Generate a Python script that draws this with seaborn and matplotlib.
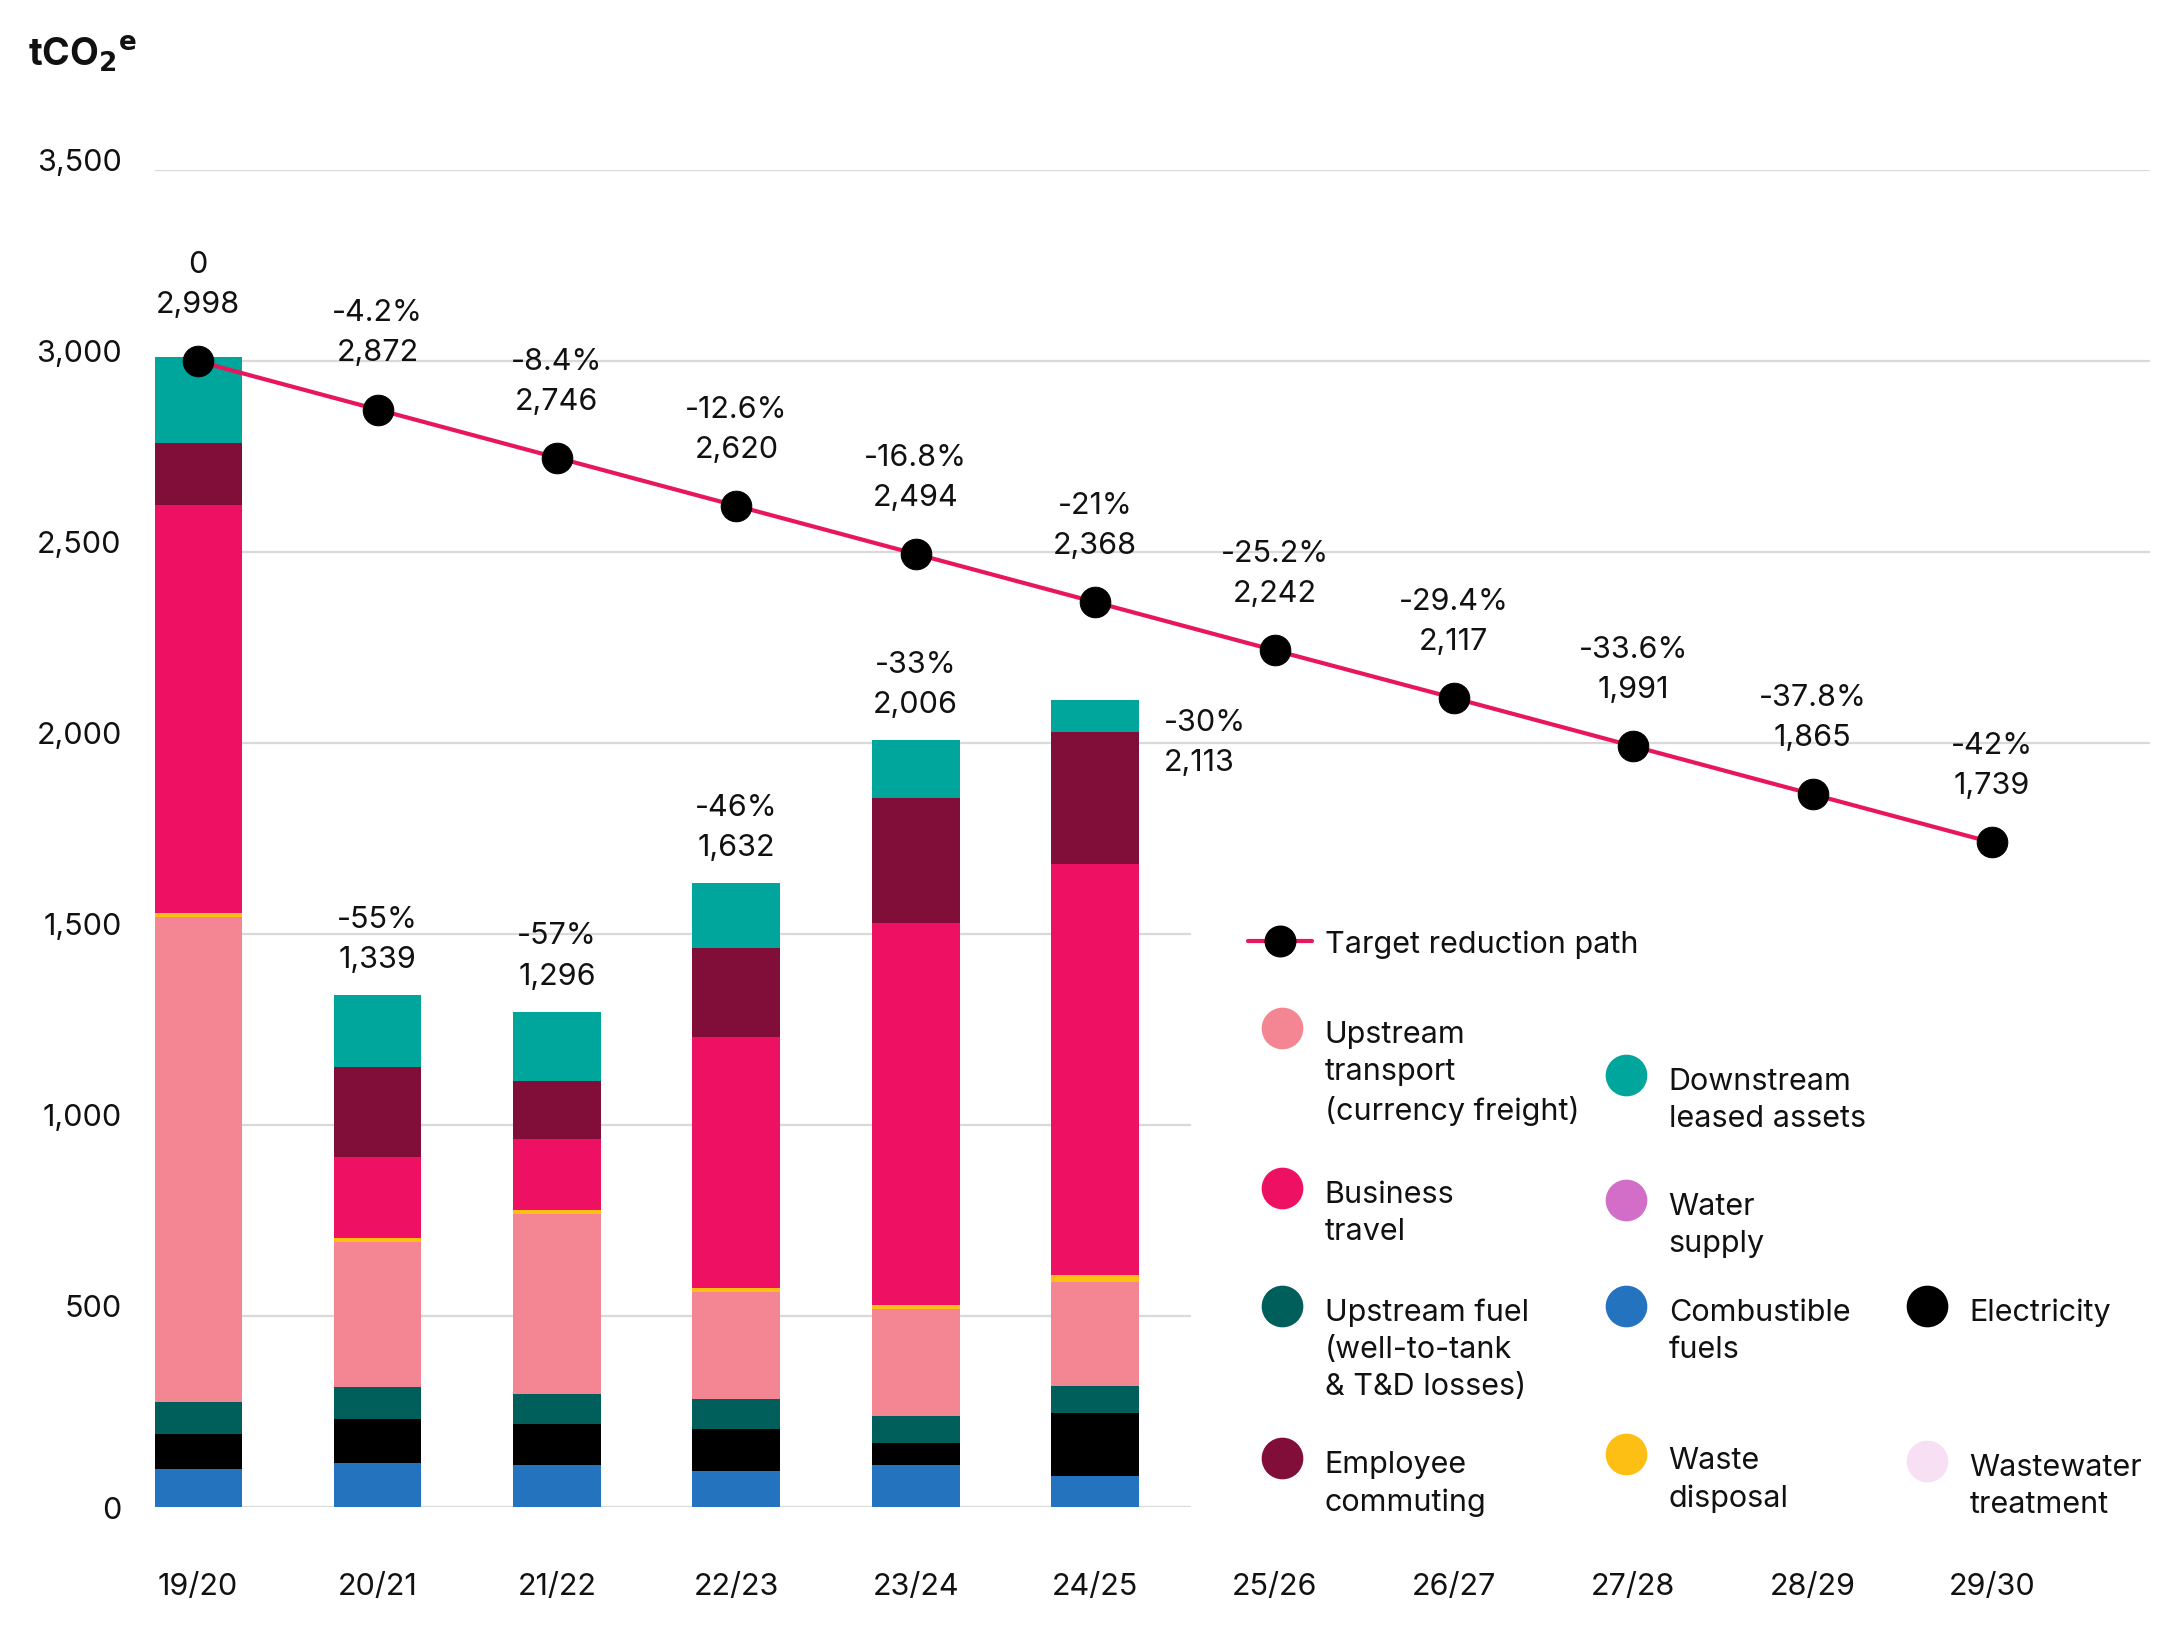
import numpy as np
import matplotlib.pyplot as plt
from matplotlib.lines import Line2D
import seaborn as sns

# Data
years = ["19/20", "20/21", "21/22", "22/23", "23/24", "24/25",
         "25/26", "26/27", "27/28", "28/29", "29/30"]

# actual emissions by source (tCO2e), bottom to top of the stack
combustible_fuels = [100, 115, 111, 95, 110, 82]
electricity = [90, 115, 107, 110, 57, 165]
upstream_fuel = [84, 85, 78, 78, 70, 70]
upstream_transport = [1270, 378, 471, 280, 280, 272]
waste_disposal = [10, 12, 11, 11, 11, 17]
business_travel = [1068, 212, 185, 655, 1000, 1077]
employee_commuting = [163, 234, 151, 235, 328, 345]
downstream_leased = [225, 188, 182, 168, 150, 85]
water_supply = [0, 0, 0, 0, 0, 0]
wastewater = [0, 0, 0, 0, 0, 0]

bar_change = ["", "-55%", "-57%", "-46%", "-33%", "-30%"]

target = [2998, 2872, 2746, 2620, 2494, 2368, 2242, 2117, 1991, 1865, 1739]
target_change = ["0", "-4.2%", "-8.4%", "-12.6%", "-16.8%", "-21%",
                 "-25.2%", "-29.4%", "-33.6%", "-37.8%", "-42%"]

# Colours
c_transport = "#F38692"
c_business = "#EE1163"
c_fuel = "#005F5A"
c_commute = "#800E38"
c_downstream = "#00A59B"
c_water = "#D36EC8"
c_combust = "#2473BE"
c_elec = "#000000"
c_waste = "#FDBF13"
c_wastewater = "#F7E0F3"
c_line = "#E8175D"

stack = [
    (combustible_fuels, c_combust),
    (electricity, c_elec),
    (upstream_fuel, c_fuel),
    (upstream_transport, c_transport),
    (waste_disposal, c_waste),
    (water_supply, c_water),
    (wastewater, c_wastewater),
    (business_travel, c_business),
    (employee_commuting, c_commute),
    (downstream_leased, c_downstream),
]

sns.set_theme(style="white")
plt.rcParams["font.family"] = ["Inter", "DejaVu Sans"]
plt.rcParams["mathtext.default"] = "bf"

FS = 22
TXT = "#111111"

fig = plt.figure(figsize=(21.75, 16.4), dpi=100)
ax = fig.add_axes([0.0713, 0.0805, 0.9172, 0.8155])

x_all = np.arange(len(years))
x_bar = x_all[:len(bar_change)]

# gridlines: upper ones run the full width, lower ones stop before the legend
for y in [0, 500, 1000, 1500, 2000, 2500, 3000, 3500]:
    xmax = 1.0 if y >= 2000 else 0.519
    ax.axhline(y, xmin=0, xmax=xmax, color="#D9D9D9", lw=1.6, zorder=0)

# Stacked bars
bottom = np.zeros(len(x_bar))
for vals, col in stack:
    vals = np.array(vals, dtype=float)
    ax.bar(x_bar, vals, bottom=bottom, width=0.49, color=col, linewidth=0, zorder=2)
    bottom += vals
totals = bottom

# Target line
sns.lineplot(x=x_all, y=target, ax=ax, color=c_line, lw=3, marker="o",
             markersize=22, markerfacecolor="black", markeredgecolor="black",
             zorder=5)

# Labels on target points
for i, (v, pct) in enumerate(zip(target, target_change)):
    ax.annotate(f"{pct}\n{v:,}", xy=(i, v), xytext=(0, 31), textcoords="offset points",
                ha="center", va="bottom", fontsize=FS, linespacing=1.55, color=TXT)

# Labels on bars
for i, (tot, pct) in enumerate(zip(totals, bar_change)):
    if not pct:
        continue
    label = f"{pct}\n{int(round(tot)):,}"
    if i == len(bar_change) - 1:
        ax.annotate(label, xy=(i + 0.245, tot), xytext=(18, -6), textcoords="offset points",
                    ha="left", va="top", fontsize=FS, linespacing=1.55, color=TXT)
    else:
        ax.annotate(label, xy=(i, tot), xytext=(0, 16), textcoords="offset points",
                    ha="center", va="bottom", fontsize=FS, linespacing=1.55, color=TXT)

ax.set_xlim(-0.24, 10.88)
ax.set_ylim(0, 3500)
ax.set_xticks(x_all, years)
ax.set_yticks([0, 500, 1000, 1500, 2000, 2500, 3000, 3500],
              ["0", "500", "1,000", "1,500", "2,000", "2,500", "3,000", "3,500"])
ax.tick_params(axis="x", length=0, pad=47, labelsize=FS, labelcolor=TXT)
ax.tick_params(axis="y", length=0, pad=24, labelsize=FS, labelcolor=TXT)
for lab in ax.get_yticklabels():
    lab.set_va("baseline")
ax.get_yticklabels()[0].set_va("center_baseline")
sns.despine(ax=ax, left=True, bottom=True)
ax.set_xlabel("")
ax.set_ylabel("")

fig.text(0.0129, 0.960, r"tCO$_2$$^e$", fontsize=27, fontweight="bold",
         va="baseline", ha="left", color=TXT)

# Legend (laid out by hand to match the three-column arrangement)
fig.add_artist(Line2D([0.574, 0.603], [0.4257, 0.4257], color=c_line, lw=3,
                      transform=fig.transFigure))
fig.add_artist(Line2D([0.5885], [0.4257], marker="o", ms=22, color="black",
                      transform=fig.transFigure))
fig.text(0.609, 0.4257 + 0.0072, "Target reduction path", fontsize=FS,
         va="top", ha="left", color=TXT)

legend_labels = ["Upstream\ntransport\n(currency freight)", "Business\ntravel",
                 "Upstream fuel\n(well-to-tank\n& T&D losses)", "Employee\ncommuting",
                 "Downstream\nleased assets", "Water\nsupply",
                 "Combustible\nfuels", "Waste\ndisposal",
                 "Electricity", "Wastewater\ntreatment"]
legend_colors = [c_transport, c_business, c_fuel, c_commute,
                 c_downstream, c_water, c_combust, c_waste,
                 c_elec, c_wastewater]
legend_col = [0, 0, 0, 0, 1, 1, 1, 1, 2, 2]
legend_y = [0.3724, 0.2752, 0.2033, 0.1103,
            0.3437, 0.2676, 0.2033, 0.1128,
            0.2033, 0.1085]
col_marker_x = [0.5893, 0.7474, 0.8858]
col_text_x = [0.609, 0.7672, 0.9055]

for lab, col, cidx, y in zip(legend_labels, legend_colors, legend_col, legend_y):
    fig.add_artist(Line2D([col_marker_x[cidx]], [y], marker="o", ms=29, color=col,
                          linestyle="none", transform=fig.transFigure))
    fig.text(col_text_x[cidx], y + 0.0048, lab, fontsize=FS, va="top", ha="left",
             linespacing=1.4, color=TXT)

fig.savefig("out.png", dpi=100)
